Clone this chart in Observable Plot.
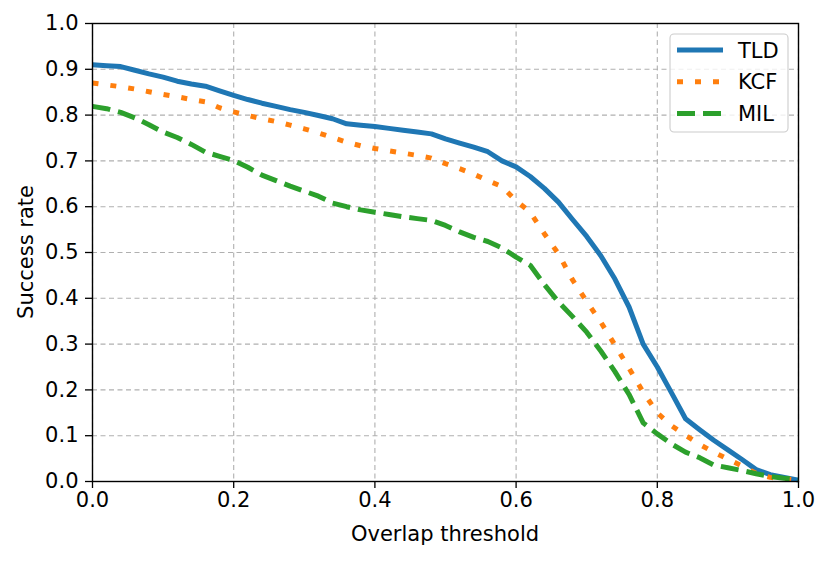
<!DOCTYPE html>
<html>
<head>
<meta charset="utf-8">
<script src="https://cdn.jsdelivr.net/npm/d3@7"></script>
<script src="https://cdn.jsdelivr.net/npm/@observablehq/plot@0.6"></script>
<style>
  html, body { margin: 0; padding: 0; background: #fff; }
  #chart svg { display: block; }
</style>
</head>
<body>
<div id="chart"></div>
<script>
const thresholds = [0,0.02,0.04,0.06,0.08,0.10,0.12,0.14,0.16,0.18,0.20,0.22,0.24,0.26,0.28,0.30,0.32,0.34,0.36,0.38,0.40,0.42,0.44,0.46,0.48,0.50,0.52,0.54,0.56,0.58,0.60,0.62,0.64,0.66,0.68,0.70,0.72,0.74,0.76,0.78,0.80,0.82,0.84,0.86,0.88,0.90,0.92,0.94,0.96,0.98,1.00];
const tld = [0.910,0.908,0.906,0.898,0.890,0.883,0.874,0.868,0.863,0.853,0.843,0.834,0.826,0.819,0.812,0.806,0.799,0.792,0.781,0.778,0.775,0.771,0.767,0.763,0.759,0.748,0.739,0.730,0.720,0.700,0.687,0.666,0.640,0.610,0.572,0.535,0.493,0.442,0.381,0.300,0.250,0.194,0.137,0.113,0.090,0.069,0.048,0.026,0.015,0.009,0.003];
const kcf = [0.870,0.866,0.862,0.857,0.851,0.845,0.840,0.834,0.829,0.816,0.807,0.799,0.792,0.786,0.778,0.770,0.761,0.751,0.741,0.733,0.727,0.722,0.717,0.712,0.706,0.694,0.683,0.671,0.657,0.644,0.613,0.588,0.541,0.497,0.440,0.393,0.348,0.298,0.247,0.195,0.150,0.122,0.101,0.081,0.064,0.049,0.034,0.018,0.009,0.006,0.003];
const mil = [0.819,0.814,0.806,0.794,0.779,0.763,0.751,0.736,0.719,0.710,0.701,0.686,0.669,0.657,0.645,0.634,0.623,0.608,0.600,0.593,0.588,0.583,0.578,0.574,0.570,0.559,0.545,0.533,0.524,0.510,0.490,0.472,0.430,0.392,0.360,0.326,0.285,0.240,0.190,0.128,0.104,0.082,0.064,0.052,0.036,0.030,0.024,0.017,0.011,0.007,0.004];
const seriesNames = ["TLD", "KCF", "MIL"];
const seriesColors = ["#1f77b4", "#ff7f0e", "#2ca02c"];
const seriesDash = [null, "6,12", "18,8"];
const xTicks = [0, 0.2, 0.4, 0.6, 0.8, 1.0];
const yTicks = [0, 0.1, 0.2, 0.3, 0.4, 0.5, 0.6, 0.7, 0.8, 0.9, 1.0];
const xLabel = "Overlap threshold";
const yLabel = "Success rate";

const seriesValues = [tld, kcf, mil];
const rows = seriesNames.map((name, i) => thresholds.map((t, j) => ({series: name, x: t, y: seriesValues[i][j]})));

const W = 830, H = 561;
const mL = 92, mR = 32, mT = 23, mB = 80;
const font = "DejaVu Sans, Liberation Sans, sans-serif";
const FS = 21;
const gridStyle = {stroke: "#b0b0b0", strokeOpacity: 1, strokeWidth: 1.1, strokeDasharray: "5,3.5"};

const chart = Plot.plot({
  width: W, height: H,
  marginLeft: mL, marginRight: mR, marginTop: mT, marginBottom: mB,
  style: {fontFamily: font, fontSize: FS + "px", background: "#fff", color: "#000"},
  x: {domain: [0, 1]},
  y: {domain: [0, 1]},
  marks: [
    Plot.gridX(xTicks, gridStyle),
    Plot.gridY(yTicks, gridStyle),
    ...rows.map((data, i) => Plot.line(data, {
      x: "x", y: "y",
      stroke: seriesColors[i],
      strokeWidth: 5,
      strokeDasharray: seriesDash[i],
      strokeLinecap: "butt",
      strokeLinejoin: "round"
    })),
    Plot.axisX(xTicks, {tickFormat: d3.format(".1f"), tickSize: 7, tickPadding: 4, fontSize: FS, label: null, strokeWidth: 1.3}),
    Plot.axisY(yTicks, {tickFormat: d3.format(".1f"), tickSize: 7, tickPadding: 7, fontSize: FS, label: null, strokeWidth: 1.3}),
    Plot.frame({stroke: "#000", strokeWidth: 1.4})
  ]
});

const svg = d3.select(chart);
// axis titles
svg.append("text")
  .attr("x", mL + (W - mL - mR) / 2).attr("y", 541)
  .attr("text-anchor", "middle").attr("font-family", font).attr("font-size", FS).attr("fill", "#000")
  .text(xLabel);
svg.append("text")
  .attr("transform", `translate(33, ${mT + (H - mT - mB) / 2}) rotate(-90)`)
  .attr("text-anchor", "middle").attr("font-family", font).attr("font-size", FS).attr("fill", "#000")
  .text(yLabel);

// legend
const lg = svg.append("g");
lg.append("rect").attr("x", 670).attr("y", 34).attr("width", 118).attr("height", 98).attr("rx", 4)
  .attr("fill", "#fff").attr("fill-opacity", 0.8).attr("stroke", "#cccccc").attr("stroke-width", 1.1);
seriesNames.forEach((name, i) => {
  const y = 50 + i * 31.7;
  lg.append("line").attr("x1", 677).attr("x2", 723).attr("y1", y).attr("y2", y)
    .attr("stroke", seriesColors[i]).attr("stroke-width", 5)
    .attr("stroke-dasharray", seriesDash[i]);
  lg.append("text").attr("x", 738).attr("y", y + 7.5)
    .attr("text-anchor", "start")
    .attr("font-family", font).attr("font-size", FS).attr("fill", "#000").text(name);
});

document.getElementById("chart").appendChild(chart);
</script>
</body>
</html>
